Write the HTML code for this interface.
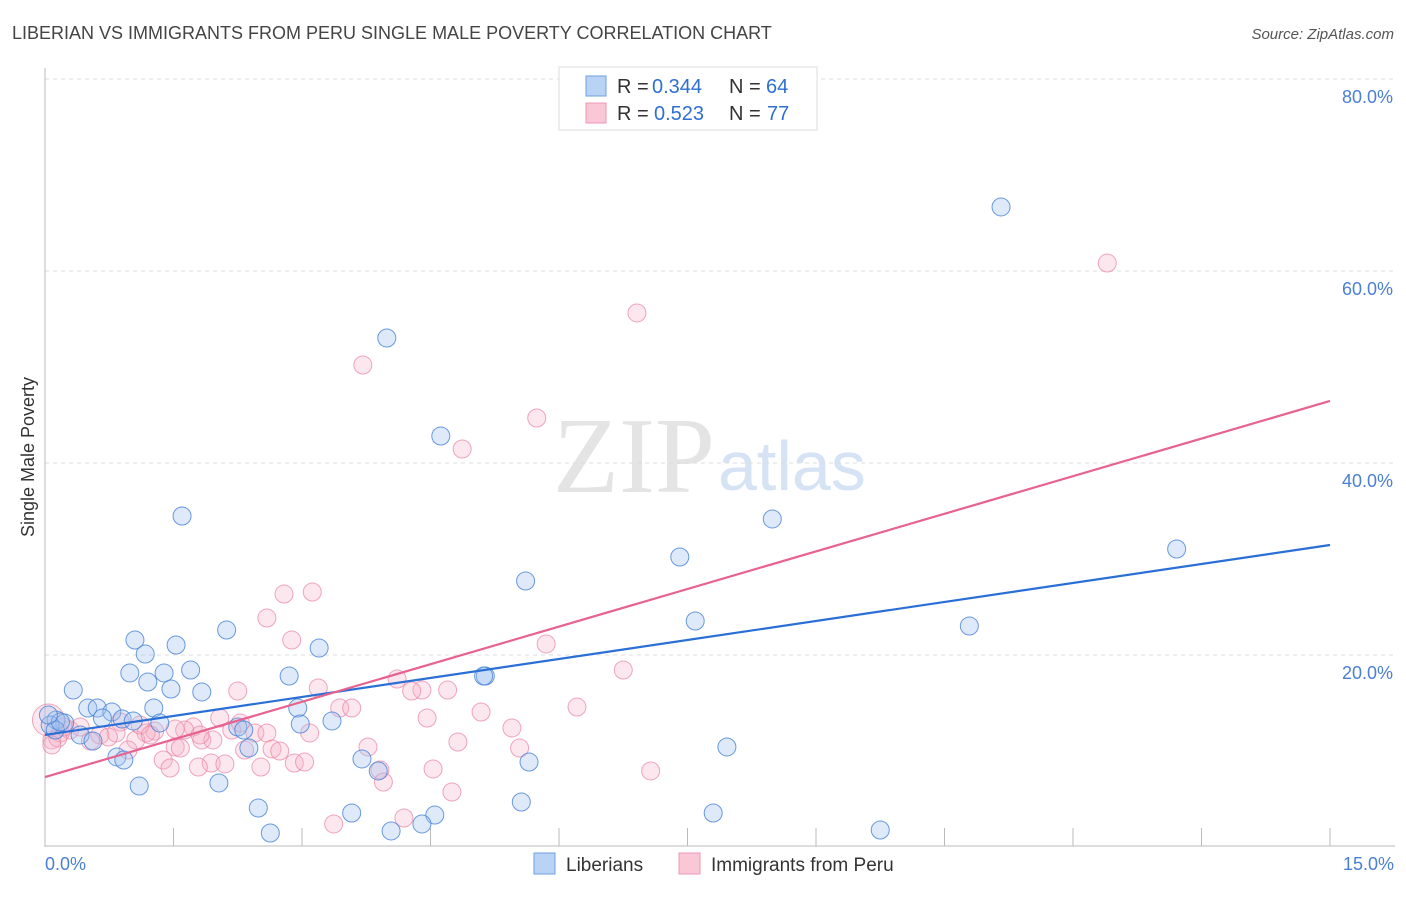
<!DOCTYPE html>
<html><head><meta charset="utf-8"><style>
body{margin:0;background:#fff;font-family:"Liberation Sans",sans-serif;}
svg text{font-family:"Liberation Sans",sans-serif;}
</style></head><body>
<svg id="chart" width="1406" height="892">
<text x="12" y="39" font-size="18" fill="#444">LIBERIAN VS IMMIGRANTS FROM PERU SINGLE MALE POVERTY CORRELATION CHART</text>
<text x="1394" y="39" font-size="15" fill="#555" text-anchor="end" font-style="italic">Source: ZipAtlas.com</text>
<text x="553" y="492" font-size="108" fill="#e4e4e4" textLength="162" lengthAdjust="spacingAndGlyphs" style="font-family:'Liberation Serif',serif">ZIP</text>
<text x="718" y="490" font-size="70" fill="#d5e3f5">atlas</text>
<g id="grid"></g>
<g id="axes"></g>
<g id="points"></g>
<g id="lines"></g>
<text transform="translate(34,457) rotate(-90)" font-size="18" fill="#333" text-anchor="middle">Single Male Poverty</text>
<text x="45" y="870" font-size="18" fill="#4a7fd4">0.0%</text>
<text x="1394" y="870" font-size="18" fill="#4a7fd4" text-anchor="end">15.0%</text>
<g>
<rect x="559" y="67" width="258" height="63" fill="#fff" stroke="#ddd"/>
<rect x="586" y="76" width="20" height="20" fill="#b8d3f4" stroke="#6f9fe0"/>
<rect x="586" y="103" width="20" height="20" fill="#f9c7d6" stroke="#eb9ab4"/>
<text x="617" y="93" font-size="20" fill="#333">R =</text>
<text x="652" y="93" font-size="20" fill="#2f6fd0">0.344</text>
<text x="729" y="93" font-size="20" fill="#333">N =</text>
<text x="766" y="93" font-size="20" fill="#2f6fd0">64</text>
<text x="617" y="120" font-size="20" fill="#333">R =</text>
<text x="654" y="120" font-size="20" fill="#2f6fd0">0.523</text>
<text x="729" y="120" font-size="20" fill="#333">N =</text>
<text x="767" y="120" font-size="20" fill="#2f6fd0">77</text>
</g>
<g>
<rect x="534" y="853" width="21" height="21" fill="#b8d3f4" stroke="#6f9fe0"/>
<text x="566" y="871" font-size="19" fill="#333">Liberians</text>
<rect x="679" y="853" width="21" height="21" fill="#f9c7d6" stroke="#eb9ab4"/>
<text x="711" y="871" font-size="19" fill="#333">Immigrants from Peru</text>
</g>
</svg>
<script>
const yTicks=[20,40,60,80];
const yTickLabels=["20.0%","40.0%","60.0%","80.0%"];
const xTickVals=[0,1.5,3,4.5,6,7.5,9,10.5,12,13.5,15];
const libX=[11.16,3.99,4.62,1.60,8.49,13.21,7.41,5.61,7.59,10.79,2.12,1.05,1.53,3.20,1.17,0.99,1.39,1.70,2.85,5.14,0.33,1.20,1.47,1.83,0.50,0.61,1.27,0.78,2.95,0.67,0.90,1.34,1.03,3.35,0.13,0.23,2.25,2.32,2.98,0.41,0.56,2.38,7.96,0.84,0.92,3.70,5.65,3.89,1.10,2.03,2.49,5.56,3.58,4.55,7.80,4.40,2.63,4.04,9.75,0.06,0.12,0.18,0.04,5.12];
const libY=[66.67,53.02,42.81,34.48,34.17,31.04,30.21,27.71,23.54,23.02,22.60,21.56,21.04,20.73,20.10,18.13,18.13,18.44,17.81,17.81,16.35,17.19,16.46,16.15,14.48,14.48,14.48,14.06,14.48,13.44,13.33,12.92,13.13,13.13,13.23,12.92,12.50,12.19,12.81,11.67,11.04,10.31,10.42,9.38,9.06,9.17,8.85,7.92,6.35,6.67,4.06,4.69,3.54,3.33,3.54,2.40,1.46,1.67,1.77,12.71,12.19,13.02,13.75,17.81];
const peruX=[12.40,6.91,3.71,5.74,4.87,2.79,3.12,2.59,2.88,5.85,6.75,2.25,3.19,4.11,4.40,4.70,4.28,6.21,3.44,3.58,5.09,4.46,5.45,2.04,1.73,1.28,2.45,2.59,3.09,1.63,1.52,1.18,0.88,0.83,0.64,0.74,0.29,0.18,0.08,0.22,1.06,1.52,1.58,1.83,1.96,2.33,2.65,3.77,4.82,5.54,2.91,3.03,1.38,1.94,1.79,2.10,2.52,1.46,3.91,3.95,4.53,7.07,4.75,4.19,3.37,0.97,0.53,0.15,0.08,0.04,0.41,1.11,2.18,2.28,1.23,2.74,1.81];
const peruY=[60.83,55.63,50.21,44.69,41.46,26.35,26.56,23.85,21.56,21.15,18.44,16.25,16.56,17.50,16.35,16.35,16.25,14.58,14.48,14.48,14.06,13.44,12.40,13.44,12.50,12.08,11.88,11.88,11.88,12.19,12.29,11.88,13.02,11.88,11.67,11.46,12.19,11.88,11.15,12.50,11.15,10.42,10.31,11.15,11.15,10.10,10.21,10.42,10.94,10.31,8.75,8.85,9.06,8.75,8.33,8.65,8.33,8.23,8.02,6.77,8.13,7.92,5.73,3.02,2.40,10.10,11.04,11.35,10.63,13.23,12.50,12.71,12.19,12.92,11.67,10.00,11.67];
const libLine=[11.67,31.46];
const peruLine=[7.29,46.46];
const X0=45,X1=1330,Y0=847,YS=9.6;
const sx=v=>X0+(X1-X0)*v/15;
const sy=v=>Y0-v*YS;
const NS="http://www.w3.org/2000/svg";
function mk(t,a,p){const e=document.createElementNS(NS,t);for(const k in a)e.setAttribute(k,a[k]);p.appendChild(e);return e;}
const grid=document.getElementById('grid'),axes=document.getElementById('axes'),pts=document.getElementById('points'),lines=document.getElementById('lines');
yTicks.forEach((v,i)=>{
 const l=mk('line',{x1:X0,x2:1395,y1:sy(v),y2:sy(v),stroke:'#dcdcdc','stroke-dasharray':'4,4'},grid);
 
 
 const t=mk('text',{x:1393,y:sy(v)+24,'font-size':18,fill:'#4a7fd4','text-anchor':'end'},grid);
 t.textContent=yTickLabels[i];
 
 
});
const ya=mk('line',{x1:X0,x2:X0,y1:68,y2:847,stroke:'#bbb'},axes);


const xa=mk('line',{x1:X0,x2:1395,y1:846,y2:846,stroke:'#bbb'},axes);


xTickVals.forEach(v=>{
 const t=mk('line',{x1:sx(v),x2:sx(v),y1:828,y2:846,stroke:'#bbb'},axes);
 
 
});
peruX.forEach((x,i)=>{
 const big=(i===69);
 const c=mk('circle',{cx:sx(x),cy:sy(peruY[i]),r:big?16:9,fill:'rgba(245,175,198,0.3)',stroke:'rgba(232,130,162,0.7)','stroke-width':1},pts);
 
 
});
libX.forEach((x,i)=>{
 const c=mk('circle',{cx:sx(x),cy:sy(libY[i]),r:9,fill:'rgba(160,196,240,0.35)',stroke:'rgba(70,130,215,0.8)','stroke-width':1},pts);
 
 
});
const bl=mk('line',{x1:sx(0),y1:sy(libLine[0]),x2:sx(15),y2:sy(libLine[1]),stroke:'#2a6fd6','stroke-width':2.2},lines);


const pl=mk('line',{x1:sx(0),y1:sy(peruLine[0]),x2:sx(15),y2:sy(peruLine[1]),stroke:'#e8628f','stroke-width':2.2},lines);


</script>
</body></html>
